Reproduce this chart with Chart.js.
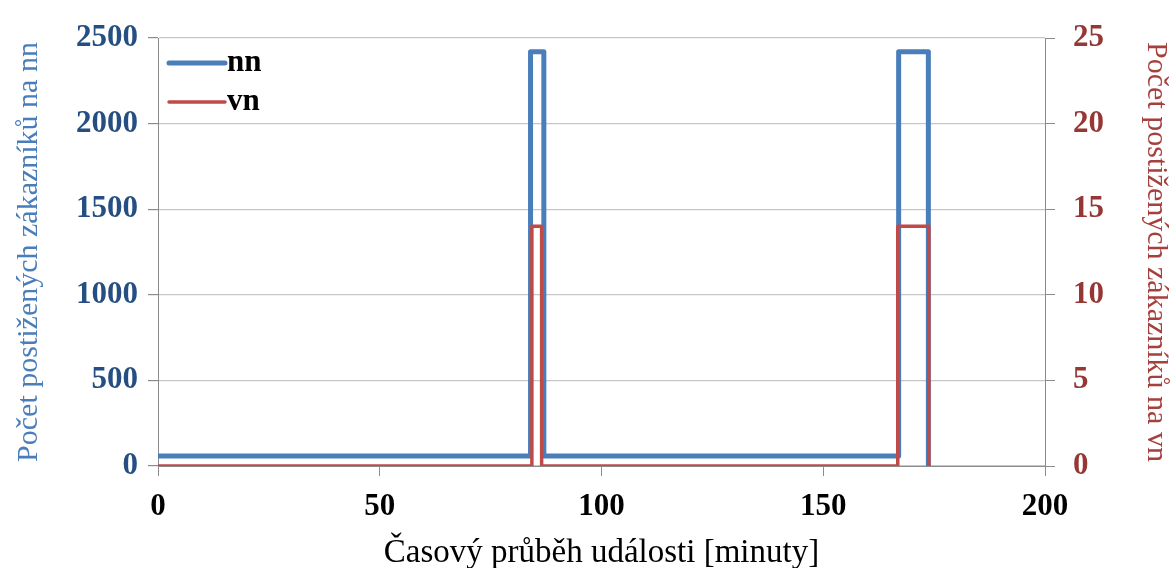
<!DOCTYPE html>
<html>
<head>
<meta charset="utf-8">
<script src="https://cdn.jsdelivr.net/npm/chart.js@4.4.1/dist/chart.umd.min.js"></script>
<style>
html,body{margin:0;padding:0;background:#fff;}
#wrap{width:1174px;height:568px;position:relative;}
</style>
</head>
<body>
<div id="wrap"><canvas id="c" width="1174" height="568"></canvas></div>
<script>
// Data
const nnTime   = [0, 84, 84, 87, 87, 167, 167, 173.7, 173.7];
const nnValues = [58, 58, 2420, 2420, 58, 58, 2420, 2420, 0];
const vnTime   = [0, 84.3, 84.3, 86.5, 86.5, 166.8, 166.8, 173.8, 173.8];
const vnValues = [0, 0, 14, 14, 0, 0, 14, 14, 0];
const seriesLabels = ['nn', 'vn'];
const xTitle = 'Časový průběh události [minuty]';
const yLeftTitle = 'Počet postižených zákazníků na nn';
const yRightTitle = 'Počet postižených zákazníků na vn';

const toPts = (xs, ys) => xs.map((x, i) => ({x: x, y: ys[i]}));
const SERIF = '"Liberation Serif", "Times New Roman", serif';
const BLUE = '#4A7EBB';
const RED = '#BE4B48';
const GRID = '#c6c6c6';
const AXIS = '#8c8c8c';
const plain = v => String(v);

const insideLegend = {
  id: 'insideLegend',
  afterDraw(chart) {
    const ctx = chart.ctx;
    const a = chart.chartArea;
    ctx.save();
    chart.data.datasets.forEach((ds, i) => {
      const y = a.top + 25 + i * 39;
      ctx.strokeStyle = ds.borderColor;
      ctx.lineWidth = ds.borderWidth;
      ctx.lineCap = 'round';
      ctx.beginPath();
      ctx.moveTo(a.left + 11, y);
      ctx.lineTo(a.left + 67, y);
      ctx.stroke();
      ctx.fillStyle = '#000';
      ctx.font = 'bold 31px ' + SERIF;
      ctx.textBaseline = 'middle';
      ctx.fillText(ds.label, a.left + 69, y);
    });
    ctx.restore();
  }
};

new Chart(document.getElementById('c'), {
  type: 'line',
  data: {
    datasets: [
      {label: seriesLabels[0], data: toPts(nnTime, nnValues), yAxisID: 'y', order: 2,
       borderColor: BLUE, borderWidth: 5, pointRadius: 0, tension: 0,
       borderJoinStyle: 'round', borderCapStyle: 'round', fill: false},
      {label: seriesLabels[1], data: toPts(vnTime, vnValues), yAxisID: 'y1', order: 1,
       borderColor: RED, borderWidth: 3.5, pointRadius: 0, tension: 0,
       borderJoinStyle: 'round', borderCapStyle: 'round', fill: false}
    ]
  },
  options: {
    responsive: false,
    animation: false,
    layout: {padding: {top: 38, left: 0, right: 0, bottom: 0}},
    plugins: {legend: {display: false}, tooltip: {enabled: false}},
    scales: {
      x: {
        type: 'linear', min: 0, max: 200,
        ticks: {stepSize: 50, callback: plain, color: '#000', font: {family: SERIF, size: 31, weight: 'bold'}, padding: 12, maxRotation: 0},
        grid: {drawOnChartArea: false, drawTicks: true, tickLength: 10, color: AXIS},
        border: {color: AXIS, width: 1},
        title: {display: true, text: xTitle, color: '#000', font: {family: SERIF, size: 33}, padding: {top: 0, bottom: -5}},
        afterFit(s) { s.height = 102; }
      },
      y: {
        position: 'left', min: 0, max: 2500,
        ticks: {stepSize: 500, callback: plain, color: '#254E82', font: {family: SERIF, size: 31, weight: 'bold'}, padding: 10},
        grid: {color: GRID, tickColor: AXIS, tickLength: 10, lineWidth: 1.2},
        border: {color: AXIS, width: 1},
        title: {display: true, text: yLeftTitle, color: BLUE, font: {family: SERIF, size: 30}, padding: {top: 11, bottom: 0}},
        afterFit(s) { s.width = 158; }
      },
      y1: {
        position: 'right', min: 0, max: 25,
        ticks: {stepSize: 5, callback: plain, color: '#953735', font: {family: SERIF, size: 31, weight: 'bold'}, padding: 18},
        grid: {drawOnChartArea: false, tickColor: AXIS, tickLength: 10},
        border: {color: AXIS, width: 1},
        title: {display: true, text: yRightTitle, color: '#A6403D', font: {family: SERIF, size: 30}, padding: {top: 0, bottom: 5}},
        afterFit(s) { s.width = 129; }
      }
    }
  },
  plugins: [insideLegend]
});
</script>
</body>
</html>
